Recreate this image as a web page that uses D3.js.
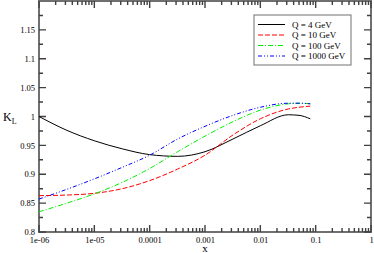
<!DOCTYPE html>
<html>
<head>
<meta charset="utf-8">
<script src="https://cdn.jsdelivr.net/npm/d3@7"></script>
<style>
  body { margin: 0; background: #fff; }
  text { font-family: "Liberation Serif", "DejaVu Serif", serif; }
</style>
</head>
<body>
<div id="chart"></div>
<script>
// x values (Bjorken x) shared by all curves
var xValues = [1e-6, 3.2e-6, 1e-5, 3.2e-5, 1e-4, 3.2e-4, 1e-3, 3.2e-3, 1e-2, 3.2e-2, 5e-2, 8e-2];

var q4 = [1.000, 0.976, 0.958, 0.944, 0.934, 0.931, 0.939, 0.961, 0.984, 1.003, 1.002, 0.996];
var q10 = [0.863, 0.864, 0.867, 0.875, 0.889, 0.909, 0.933, 0.968, 0.996, 1.013, 1.016, 1.018];
var q100 = [0.835, 0.850, 0.866, 0.886, 0.910, 0.939, 0.966, 0.991, 1.011, 1.022, 1.023, 1.022];
var q1000 = [0.857, 0.874, 0.892, 0.912, 0.933, 0.961, 0.983, 1.002, 1.016, 1.023, 1.023, 1.022];

var seriesNames = ["Q = 4 GeV", "Q = 10 GeV", "Q = 100 GeV", "Q = 1000 GeV"];

var xTickValues = [1e-6, 1e-5, 1e-4, 1e-3, 1e-2, 1e-1, 1];
var xTickLabels = ["1e-06", "1e-05", "0.0001", "0.001", "0.01", "0.1", "1"];
var yTickValues = [0.8, 0.85, 0.9, 0.95, 1, 1.05, 1.1, 1.15];

var svgWidth = 374;
var svgHeight = 253;
var margin = { top: 1, right: 3, bottom: 21, left: 39 };
var width = svgWidth - margin.left - margin.right;
var height = svgHeight - margin.top - margin.bottom;

var svg = d3.select("#chart")
  .append("svg")
  .attr("width", svgWidth)
  .attr("height", svgHeight);

var chartGroup = svg.append("g")
  .attr("transform", `translate(${margin.left}, ${margin.top})`);

var xScale = d3.scaleLog().domain([1e-6, 1]).range([0, width]);
var yScale = d3.scaleLinear().domain([0.8, 1.2]).range([height, 0]);

// minor ticks
var xMinor = [];
for (var e = -6; e < 0; e++) {
  for (var m = 2; m <= 9; m++) xMinor.push(m * Math.pow(10, e));
}
var yMinor = d3.range(0.825, 1.2, 0.05);

var axisColor = "#404040";

// tick labels via axes (no tick lines)
chartGroup.append("g")
  .attr("transform", `translate(0, ${height})`)
  .call(d3.axisBottom(xScale).tickValues(xTickValues)
    .tickFormat((d, i) => xTickLabels[i]).tickSize(0).tickPadding(5))
  .call(g => g.select(".domain").remove())
  .call(g => g.selectAll("text").attr("font-size", "8.5px").attr("font-family", "Liberation Serif"));

chartGroup.append("g")
  .call(d3.axisLeft(yScale).tickValues(yTickValues)
    .tickFormat(d3.format("")).tickSize(0).tickPadding(4))
  .call(g => g.select(".domain").remove())
  .call(g => g.selectAll("text").attr("font-size", "8.5px").attr("font-family", "Liberation Serif"));

// frame
chartGroup.append("rect")
  .attr("x", 0).attr("y", 0)
  .attr("width", width).attr("height", height)
  .attr("fill", "none")
  .attr("stroke", "#707070")
  .attr("stroke-width", 2);

// tick marks, drawn inward on all four sides, as one path
var tickPath = d3.path();
xTickValues.map(d => [d, 7]).concat(xMinor.map(d => [d, 4])).forEach(function(t) {
  var x = xScale(t[0]);
  tickPath.moveTo(x, height); tickPath.lineTo(x, height - t[1]);
  tickPath.moveTo(x, 0); tickPath.lineTo(x, t[1]);
});
yTickValues.map(d => [d, 7]).concat(yMinor.map(d => [d, 4])).forEach(function(t) {
  var y = yScale(t[0]);
  tickPath.moveTo(0, y); tickPath.lineTo(t[1], y);
  tickPath.moveTo(width, y); tickPath.lineTo(width - t[1], y);
});
chartGroup.append("path")
  .attr("d", tickPath.toString())
  .attr("fill", "none")
  .attr("stroke", axisColor)
  .attr("stroke-width", 1.4);

// curves
var series = [
  { name: seriesNames[0], values: q4, color: "#000000", dash: null },
  { name: seriesNames[1], values: q10, color: "#ff0000", dash: "5,2" },
  { name: seriesNames[2], values: q100, color: "#00ee00", dash: "5,2,1,2" },
  { name: seriesNames[3], values: q1000, color: "#0000ff", dash: "4,2,1,2,1,2" }
];

var curve = d3.line()
  .x(d => xScale(d[0]))
  .y(d => yScale(d[1]))
  .curve(d3.curveMonotoneX);

series.forEach(function(s) {
  chartGroup.append("path")
    .datum(xValues.map((x, i) => [x, s.values[i]]))
    .attr("fill", "none")
    .attr("stroke", s.color)
    .attr("stroke-width", 1)
    .attr("stroke-dasharray", s.dash)
    .attr("d", curve);
});

// legend
var legend = svg.append("g").attr("transform", "translate(254, 15)");
legend.append("rect")
  .attr("width", 97).attr("height", 50)
  .attr("fill", "#fff")
  .attr("stroke", "#707070")
  .attr("stroke-width", 1);
series.forEach(function(s, i) {
  var y = 9.5 + i * 10.5;
  legend.append("line")
    .attr("x1", 4).attr("x2", 31)
    .attr("y1", y).attr("y2", y)
    .attr("stroke", s.color)
    .attr("stroke-width", 1)
    .attr("stroke-dasharray", s.dash);
  legend.append("text")
    .attr("x", 38).attr("y", y + 3)
    .attr("font-size", "9px")
    .text(s.name);
});

// axis titles
var yTitle = svg.append("text")
  .attr("x", 3).attr("y", 121)
  .attr("font-size", "12px");
yTitle.append("tspan").text("K");
yTitle.append("tspan").attr("dy", 3).attr("font-size", "8px").text("L");

svg.append("text")
  .attr("x", 205).attr("y", 252)
  .attr("text-anchor", "middle")
  .attr("font-size", "11px")
  .text("x");
</script>
</body>
</html>
